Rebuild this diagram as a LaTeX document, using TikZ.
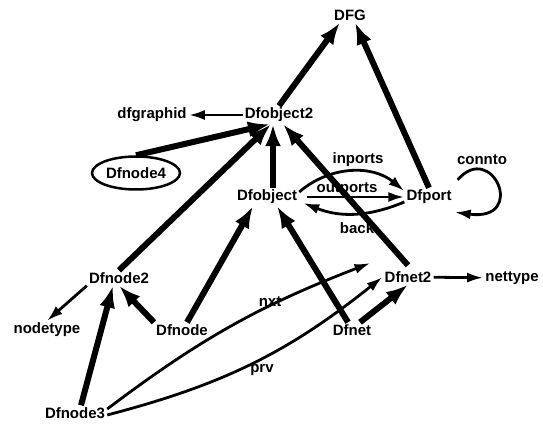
\documentclass[tikz,border=0pt]{standalone}
\usepackage{fontspec}
\setmainfont{Liberation Sans}
\usetikzlibrary{arrows.meta,shapes.geometric}
\begin{document}
\begin{tikzpicture}[x=1pt,y=-1pt,
  lbl/.style={font=\bfseries\fontsize{15}{17}\selectfont, inner sep=2pt},
  elabel/.style={font=\bfseries\fontsize{15}{17}\selectfont, inner sep=1pt},
  heavy/.style={line width=6pt, -{Latex[length=22pt,width=16pt]}},
  light/.style={line width=2.8pt, -{Latex[length=16pt,width=10pt]}}]
\useasboundingbox (0,0) rectangle (543,427);

% classes and attributes
\node[lbl] (DFG) at (350,15) {DFG};
\node[lbl] (Dfobject2) at (279,115) {Dfobject2};
\node[lbl] (dfgraphid) at (152,115) {dfgraphid};
\node[lbl, ellipse, draw, line width=2.5pt, minimum width=88pt, minimum height=33pt, inner sep=0pt] (Dfnode4) at (136,173) {Dfnode4};
\node[lbl] (Dfobject) at (267,197) {Dfobject};
\node[lbl] (Dfport) at (429,197) {Dfport};
\node[lbl] (Dfnode2) at (119,278) {Dfnode2};
\node[lbl] (nodetype) at (47,330) {nodetype};
\node[lbl] (Dfnode) at (182,330) {Dfnode};
\node[lbl] (Dfnet) at (352,330) {Dfnet};
\node[lbl] (Dfnet2) at (408,277) {Dfnet2};
\node[lbl] (nettype) at (512,278) {nettype};
\node[lbl] (Dfnode3) at (75,413) {Dfnode3};

% inheritance
\draw[heavy] (Dfobject2.north) -- ([xshift=-10pt]DFG.south);
\draw[heavy] (Dfport.north) -- ([xshift=5pt]DFG.south);
\draw[heavy] (Dfnode4.north) -- ([xshift=-9pt]Dfobject2.south);
\draw[heavy] (Dfnode2.north) -- ([xshift=-8pt]Dfobject2.south);
\draw[heavy] ([xshift=-6pt]Dfobject2.south |- Dfobject.north) -- ([xshift=-6pt]Dfobject2.south);
\draw[heavy] ([yshift=4pt]Dfnet2.north) -- ([xshift=4pt]Dfobject2.south);
\draw[heavy] ([xshift=5pt]Dfnode.north) -- ([xshift=-14pt]Dfobject.south);
\draw[heavy] ([xshift=-4pt]Dfnet.north) -- ([xshift=10pt]Dfobject.south);
\draw[heavy] ([xshift=8pt]Dfnet.north) -- (Dfnet2.south);
\draw[heavy] (Dfnode.north west) -- (Dfnode2.south);
\draw[heavy] ([xshift=6pt]Dfnode3.north) -- ([xshift=-6pt]Dfnode2.south);

% attributes and relations
\draw[light] (Dfobject2) -- (dfgraphid);
\draw[light] (Dfnode2.south west) -- (nodetype.north);
\draw[light] (Dfnet2) -- (nettype);
\draw[light] ([yshift=5pt]Dfobject.east) to[bend left=40] ([yshift=6pt]Dfport.west);
\draw[light] ([xshift=8pt]Dfobject.east) -- (Dfport.west);
\draw[light] ([yshift=-5pt]Dfport.west) to[bend left=22] ([xshift=4pt,yshift=-6pt]Dfobject.east);
\draw[light] ([xshift=4pt,yshift=8pt]Dfport.north east) .. controls (492,140) and (528,222) .. ([xshift=1pt,yshift=-6pt]Dfport.south east);
\draw[light] ([yshift=4pt]Dfnode3.east) to[bend left=8] ([xshift=-12pt,yshift=14pt]Dfnet2.west);
\draw[light] ([yshift=-2pt]Dfnode3.east) to[bend right=12] (Dfnet2.west);

% relation names
\node[elabel] (inports) at (358,160) {inports};
\node[elabel] (outports) at (347,189) {outports};
\node[elabel] (back) at (357,228) {back};
\node[elabel] (connto) at (482,160) {connto};
\node[elabel] (nxt) at (270,302) {nxt};
\node[elabel] (prv) at (262,370) {prv};
\end{tikzpicture}
\end{document}
